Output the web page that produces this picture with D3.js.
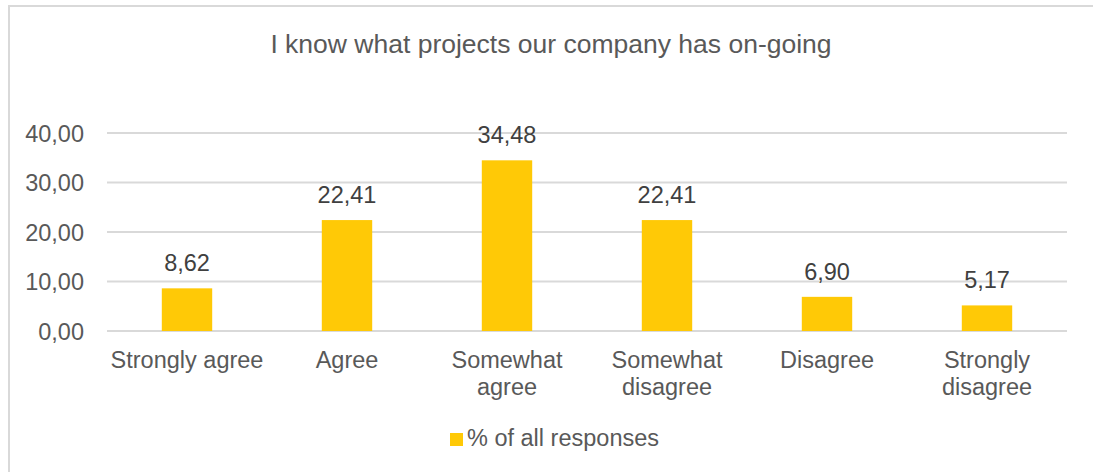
<!DOCTYPE html>
<html>
<head>
<meta charset="utf-8">
<script src="https://cdn.jsdelivr.net/npm/d3@7"></script>
<style>
  html, body { margin: 0; padding: 0; background: #ffffff; }
  svg { display: block; font-family: "Liberation Sans", Arial, sans-serif; }
</style>
</head>
<body>
<svg id="chart" width="1093" height="472"></svg>
<script>
// Survey results: share of responses per answer
const title = "I know what projects our company has on-going";
const categories = [
  ["Strongly agree"],
  ["Agree"],
  ["Somewhat", "agree"],
  ["Somewhat", "disagree"],
  ["Disagree"],
  ["Strongly", "disagree"]
];
const values = [8.62, 22.41, 34.48, 22.41, 6.90, 5.17];
const yTicks = [0, 10, 20, 30, 40];
const seriesName = "% of all responses";

const fmt = v => v.toFixed(2).replace(".", ",");

const svg = d3.select("#chart");
const W = 1093, H = 472;
const plot = { left: 107, right: 1067, top: 133, bottom: 331 };
const barColor = "#FFC906";
const gridColor = "#D9D9D9";

// chart frame
svg.append("rect")
  .attr("x", 9).attr("y", 6)
  .attr("width", W + 20).attr("height", H + 20)
  .attr("fill", "#fff")
  .attr("stroke", gridColor).attr("stroke-width", 2);

// title
svg.append("text")
  .attr("x", (plot.left + plot.right) / 2 - 36)
  .attr("y", 53)
  .attr("text-anchor", "middle")
  .attr("font-size", 26.5)
  .attr("fill", "#595959")
  .text(title);

const keys = categories.map(c => c.join(" "));
const x = d3.scaleBand()
  .domain(keys)
  .range([plot.left, plot.right])
  .paddingInner(0.685)
  .paddingOuter(0.3425);

const y = d3.scaleLinear().domain([0, 40]).range([plot.bottom, plot.top]);

// horizontal gridlines
svg.append("g")
  .selectAll("line")
  .data(yTicks)
  .join("line")
  .attr("x1", plot.left).attr("x2", plot.right)
  .attr("y1", d => y(d)).attr("y2", d => y(d))
  .attr("stroke", gridColor)
  .attr("stroke-width", 2);

// y axis labels
const yAxis = d3.axisLeft(y).tickValues(yTicks).tickFormat(fmt).tickSize(0).tickPadding(0);
const yg = svg.append("g").attr("transform", `translate(${plot.left - 23},0)`).call(yAxis);
yg.select(".domain").remove();
yg.selectAll("text")
  .attr("font-size", 23.5)
  .attr("font-family", "Liberation Sans, Arial, sans-serif")
  .attr("fill", "#595959")
  .attr("dy", "0.35em");

// bars
svg.append("g")
  .selectAll("rect")
  .data(values)
  .join("rect")
  .attr("x", (d, i) => x(keys[i]))
  .attr("width", x.bandwidth())
  .attr("y", d => y(d))
  .attr("height", d => y(0) - y(d))
  .attr("fill", barColor);

// value labels
svg.append("g")
  .selectAll("text")
  .data(values)
  .join("text")
  .attr("x", (d, i) => x(keys[i]) + x.bandwidth() / 2)
  .attr("y", d => y(d) - 17)
  .attr("text-anchor", "middle")
  .attr("font-size", 23.5)
  .attr("fill", "#404040")
  .text(fmt);

// category labels (wrapped)
const catG = svg.append("g")
  .selectAll("text")
  .data(categories)
  .join("text")
  .attr("x", (d, i) => x(keys[i]) + x.bandwidth() / 2)
  .attr("y", 368)
  .attr("text-anchor", "middle")
  .attr("font-size", 23.5)
  .attr("fill", "#595959");
catG.selectAll("tspan")
  .data(d => d)
  .join("tspan")
  .attr("x", function () { return d3.select(this.parentNode).attr("x"); })
  .attr("dy", (d, i) => i === 0 ? 0 : 27)
  .text(d => d);

// legend
const lg = svg.append("g");
lg.append("rect")
  .attr("x", 450).attr("y", 433)
  .attr("width", 13).attr("height", 13)
  .attr("fill", barColor);
lg.append("text")
  .attr("x", 467).attr("y", 446)
  .attr("font-size", 23.5)
  .attr("fill", "#595959")
  .text(seriesName);
</script>
</body>
</html>
